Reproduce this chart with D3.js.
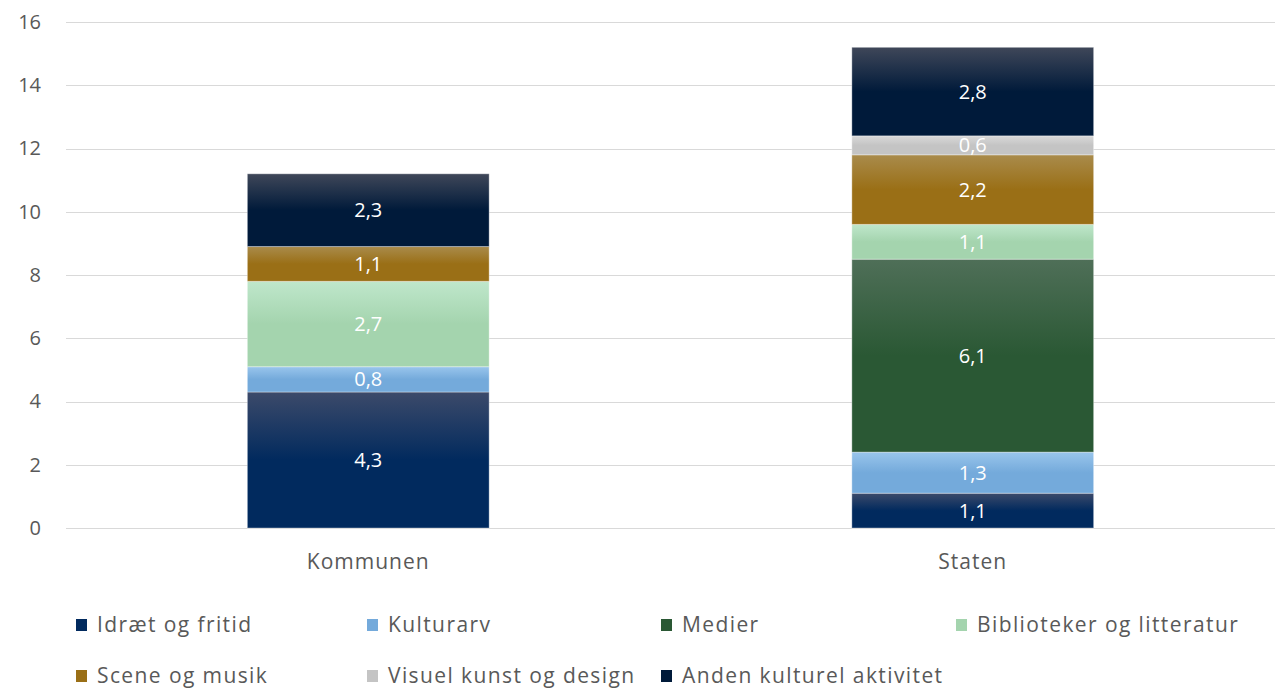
<!DOCTYPE html>
<html lang="da">
<head>
<meta charset="utf-8">
<title>Kultur</title>
<script src="https://cdn.jsdelivr.net/npm/d3@7/dist/d3.min.js"></script>
<style>
  body { margin: 0; background: #fff; }
  text { font-family: "Open Sans", "Noto Sans", sans-serif; }
</style>
</head>
<body>
<script>
// data
var categories = ["Kommunen", "Staten"];
var seriesNames = ["Idræt og fritid", "Kulturarv", "Medier", "Biblioteker og litteratur",
                   "Scene og musik", "Visuel kunst og design", "Anden kulturel aktivitet"];
var kommunen = [4.3, 0.8, 0, 2.7, 1.1, 0, 2.3];
var staten   = [1.1, 1.3, 6.1, 1.1, 2.2, 0.6, 2.8];
var yTicks = [0, 2, 4, 6, 8, 10, 12, 14, 16];

// top / bottom colour of each series gradient
var colTop    = ["#3c4a6a", "#99c5ec", "#4f6f58", "#bfe7cb", "#a98b4b", "#d9d9d9", "#3f4759"];
var colBottom = ["#012a5e", "#74aadb", "#2a5834", "#a4d4ae", "#9a6f16", "#c4c4c4", "#001a3a"];

var width = 1279, height = 688;
var margin = {left: 66, right: 4, top: 22, bottom: 160};

var rows = categories.map(function(c, i) {
    var vals = i === 0 ? kommunen : staten;
    var r = {cat: c};
    seriesNames.forEach(function(s, j) { r[s] = vals[j]; });
    return r;
});

var stack = d3.stack().keys(seriesNames);
var layers = stack(rows);

var svg = d3.select("body").append("svg")
    .attr("width", width)
    .attr("height", height);

var x = d3.scaleBand()
    .domain(categories)
    .range([margin.left, width - margin.right])
    .paddingInner(0.6)
    .paddingOuter(0.3);

var y = d3.scaleLinear()
    .domain([0, 16])
    .range([height - margin.bottom, margin.top]);

// gradients
var defs = svg.append("defs");
seriesNames.forEach(function(s, j) {
    var g = defs.append("linearGradient")
        .attr("id", "grad" + j)
        .attr("x1", 0).attr("y1", 0).attr("x2", 0).attr("y2", 1);
    g.append("stop").attr("offset", "0%").attr("stop-color", colTop[j]);
    g.append("stop").attr("offset", "50%").attr("stop-color", colBottom[j]);
    g.append("stop").attr("offset", "100%").attr("stop-color", colBottom[j]);
});

// grid lines
svg.append("g")
    .selectAll("line")
    .data(yTicks)
    .enter().append("line")
    .attr("x1", margin.left)
    .attr("x2", width - margin.right)
    .attr("y1", function(d) { return Math.round(y(d)) + 0.5; })
    .attr("y2", function(d) { return Math.round(y(d)) + 0.5; })
    .attr("stroke", "#d9d9d9")
    .attr("stroke-width", 1);

// y axis labels
var yAxis = svg.append("g")
    .attr("transform", "translate(" + margin.left + ",0)")
    .call(d3.axisLeft(y).tickValues(yTicks).tickSize(0).tickPadding(25));
yAxis.select(".domain").remove();
yAxis.selectAll("text")
    .attr("fill", "#595959")
    .style("font-size", "20px");

// bars
var layerG = svg.append("g")
    .selectAll("g")
    .data(layers)
    .enter().append("g")
    .attr("fill", function(d, j) { return "url(#grad" + j + ")"; });

layerG.selectAll("rect")
    .data(function(d) { return d.filter(function(p) { return p[1] - p[0] > 0; }); })
    .enter().append("rect")
    .attr("x", function(d) { return x(d.data.cat); })
    .attr("width", x.bandwidth())
    .attr("y", function(d) { return y(d[1]); })
    .attr("height", function(d) { return y(d[0]) - y(d[1]); })
    .attr("stroke", "#ffffff")
    .attr("stroke-opacity", 0.35)
    .attr("stroke-width", 1);

// value labels
layerG.selectAll("text")
    .data(function(d) { return d.filter(function(p) { return p[1] - p[0] > 0; }); })
    .enter().append("text")
    .attr("x", function(d) { return x(d.data.cat) + x.bandwidth() / 2; })
    .attr("y", function(d) { return (y(d[0]) + y(d[1])) / 2; })
    .attr("dy", "0.35em")
    .attr("text-anchor", "middle")
    .attr("fill", "#ffffff")
    .style("font-size", "20px")
    .text(function(d) { return d3.format(".1f")(d[1] - d[0]).replace(".", ","); });

// category labels
var xAxis = svg.append("g")
    .attr("transform", "translate(0," + y(0) + ")")
    .call(d3.axisBottom(x).tickSize(0).tickPadding(26));
xAxis.select(".domain").remove();
xAxis.selectAll("text")
    .attr("fill", "#595959")
    .style("font-size", "21px")
    .style("letter-spacing", "1px");

// legend
var legendX = [76, 367, 661, 956, 76, 367, 661];
var legendY = [625, 625, 625, 625, 676, 676, 676];
var legend = svg.append("g")
    .selectAll("g")
    .data(seriesNames)
    .enter().append("g")
    .attr("transform", function(d, i) { return "translate(" + legendX[i] + "," + legendY[i] + ")"; });

legend.append("rect")
    .attr("x", 0)
    .attr("y", -6)
    .attr("width", 11)
    .attr("height", 12)
    .attr("fill", function(d, i) { return colBottom[i]; });

legend.append("text")
    .attr("x", 21)
    .attr("y", 0)
    .attr("dy", "0.35em")
    .attr("fill", "#595959")
    .style("font-size", "21px")
    .style("letter-spacing", "1.4px")
    .text(function(d) { return d; });
</script>
</body>
</html>
